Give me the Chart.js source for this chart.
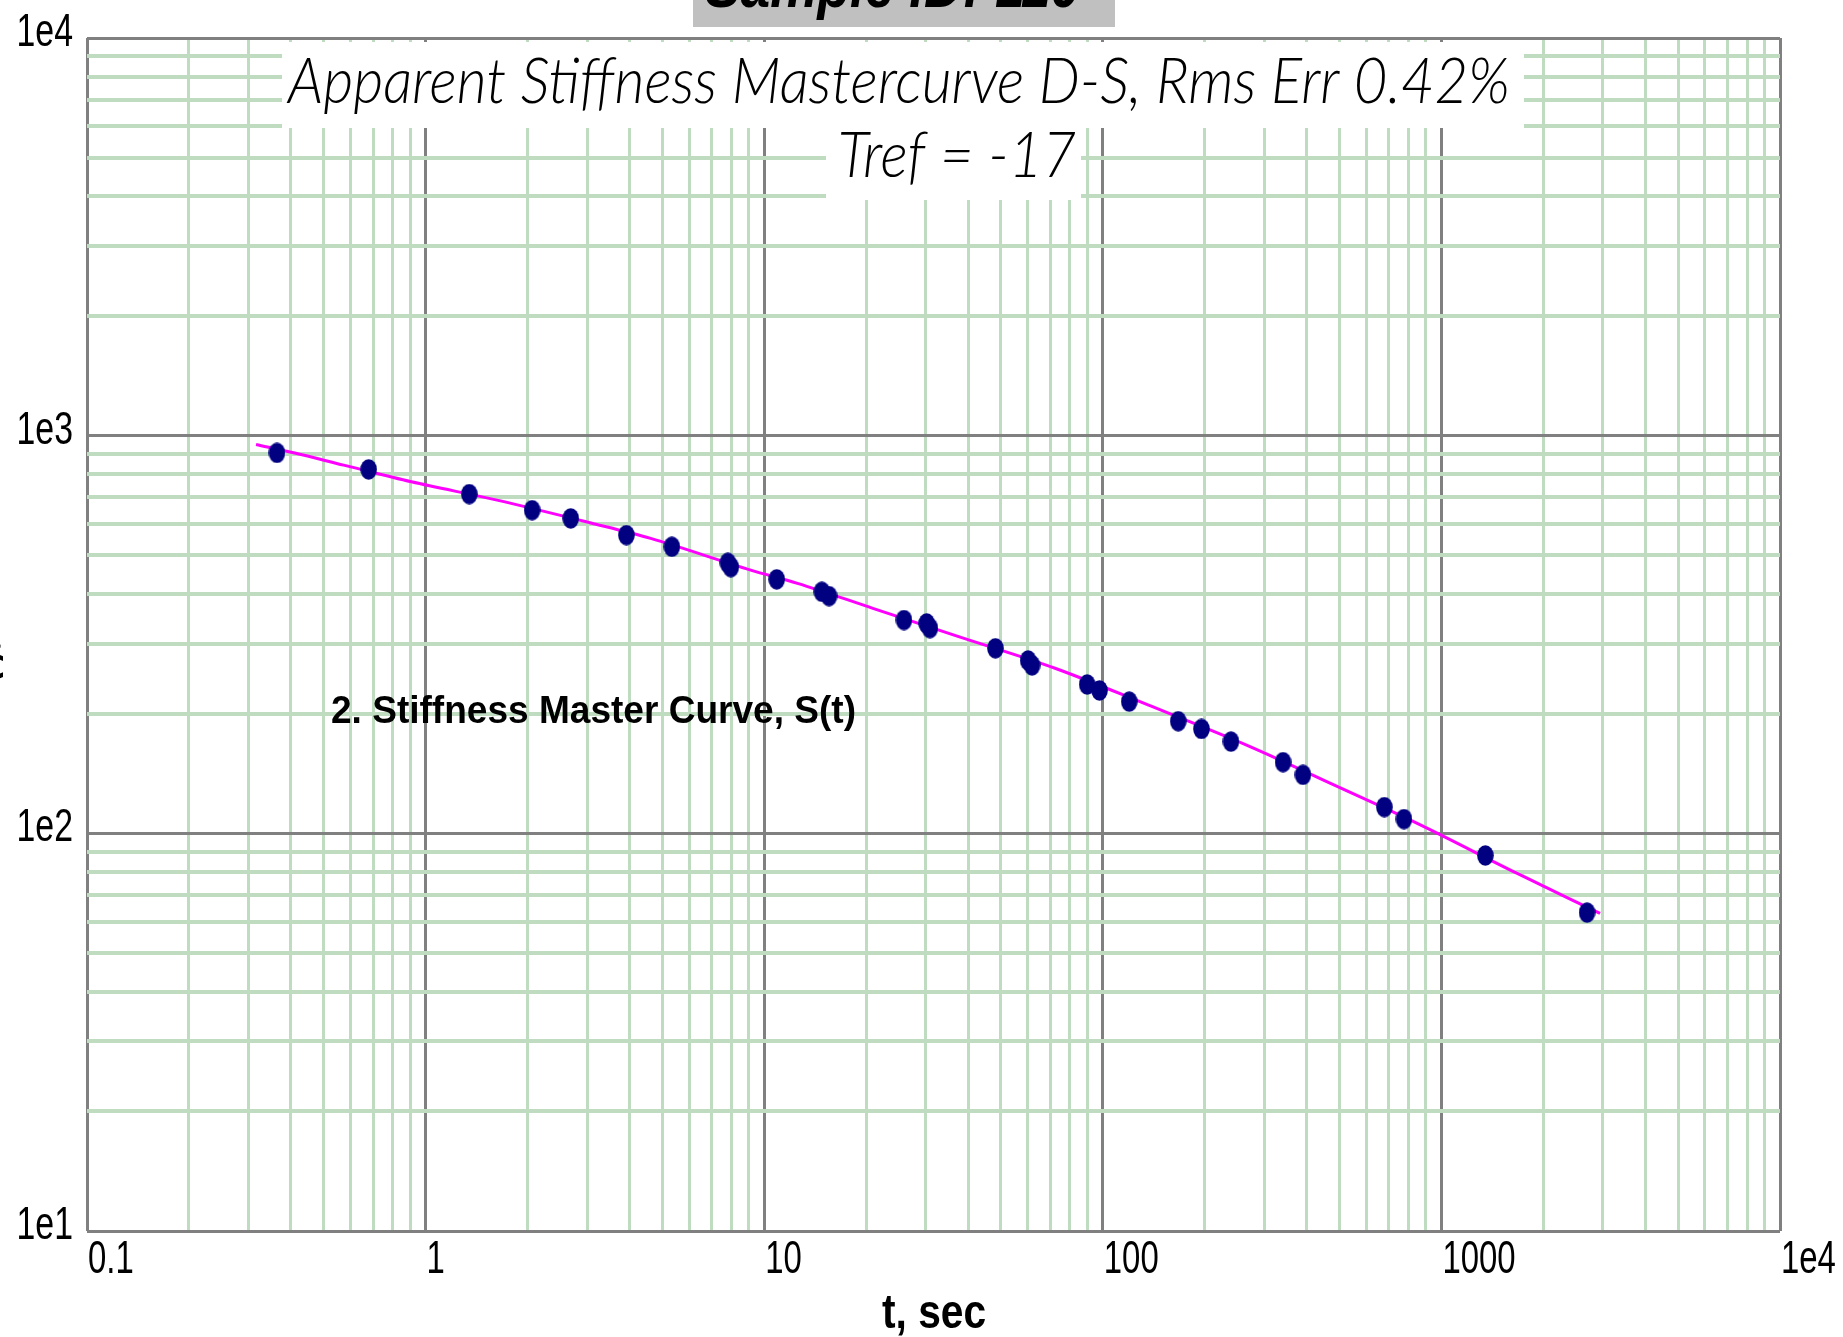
<!DOCTYPE html>
<html>
<head>
<meta charset="utf-8">
<script src="https://cdn.jsdelivr.net/npm/chart.js@4.4.1/dist/chart.umd.min.js"></script>
<style>
  html, body { margin: 0; padding: 0; background: #ffffff; overflow: hidden; }
  #wrap { position: relative; width: 1843px; height: 1337px; }
</style>
</head>
<body>
<div id="wrap"><canvas id="chart" width="1843" height="1337"></canvas></div>
<script>
// Measured creep stiffness S(t) against loading time t (s)
const loadTimes = [0.364, 0.679, 1.346, 2.063, 2.683, 3.918, 5.336, 7.81, 7.97, 10.89,
                   14.8, 15.54, 25.87, 30.18, 30.86, 48.17, 60.16, 61.8, 89.9, 97.8,
                   119.7, 167.0, 195.6, 239.1, 340.6, 390.1, 678.3, 775.3, 1348, 2692];
const stiffness = [905, 822.5, 712.9, 649.7, 619.4, 562.3, 525.6, 479, 467, 435.2,
                   405, 395, 343.9, 337.2, 328.1, 292.0, 272.1, 264.4, 236.8, 228.7,
                   214.4, 191.4, 183.0, 170.1, 151.0, 140.3, 116.4, 108.6, 87.96, 63.2];

// Fitted master curve
const fitTimes = [0.3157, 0.4076, 0.5726, 0.908, 1.626, 3.059, 4.621, 9.123, 12.54,
                  20.94, 37.52, 72.25, 135.9, 272.1, 468.8, 845.3, 1669, 2941];
const fitStiffness = [950.4, 905.6, 843.3, 765.6, 688.4, 603.8, 551.6, 459.2, 425.3,
                      368, 312.3, 260.1, 210.3, 165.2, 133.7, 106.1, 79.4, 62.9];

// Axis decades and their labels
const xDecades = [0.1, 1, 10, 100, 1000, 10000];
const xTickLabels = ['0.1', '1', '10', '100', '1000', '1e4'];
const yDecades = [10, 100, 1000, 10000];
const yTickLabels = ['1e1', '1e2', '1e3', '1e4'];

// Text
const sampleLabel = 'Sample ID: 110';
const titleLines = ['Apparent Stiffness Mastercurve D-S, Rms Err 0.42%', 'Tref = -17'];
const curveLabel = '2. Stiffness Master Curve, S(t)';
const xAxisTitle = 't, sec';
const yAxisTitle = 'S(t), MPa';

// Log grid: decades are major lines, 2..9 multiples are minor lines
function logGridTicks(decades) {
  const ticks = [];
  for (let i = 0; i < decades.length - 1; i++) {
    for (let m = 1; m <= 9; m++) {
      ticks.push({ value: m * decades[i], major: m === 1 });
    }
  }
  ticks.push({ value: decades[decades.length - 1], major: true });
  return ticks;
}

// Slightly tall navy dot used as the marker
function makeDot() {
  const c = document.createElement('canvas');
  c.width = 17; c.height = 21;
  const g = c.getContext('2d');
  g.fillStyle = '#000080';
  g.beginPath();
  g.ellipse(8.5, 10.5, 8.3, 10.3, 0, 0, Math.PI * 2);
  g.fill();
  return c;
}

// Draws text squeezed horizontally so that it spans the given width
function fitText(ctx, text, font, x, y, width, align) {
  ctx.save();
  ctx.font = font;
  ctx.textBaseline = 'alphabetic';
  ctx.textAlign = 'left';
  const w = ctx.measureText(text).width;
  const s = width / w;
  ctx.translate(x, y);
  ctx.scale(s, 1);
  const ox = align === 'center' ? -w / 2 : (align === 'right' ? -w : 0);
  ctx.fillText(text, ox, 0);
  ctx.restore();
  return s;
}

function scaledText(ctx, text, font, x, y, sx, align) {
  ctx.save();
  ctx.font = font;
  ctx.textBaseline = 'alphabetic';
  ctx.textAlign = 'left';
  const w = ctx.measureText(text).width;
  ctx.translate(x, y);
  ctx.scale(sx, 1);
  const ox = align === 'center' ? -w / 2 : (align === 'right' ? -w : 0);
  ctx.fillText(text, ox, 0);
  ctx.restore();
}

const annotations = {
  id: 'annotations',
  afterDraw(chart) {
    const ctx = chart.ctx;
    const xs = chart.scales.x;
    const ys = chart.scales.y;
    const tickFont = '47px "Liberation Sans", Arimo, Arial, sans-serif';
    ctx.save();
    ctx.fillStyle = '#000000';

    // header tab, clipped by the top edge of the page
    ctx.fillStyle = '#c0c0c0';
    ctx.fillRect(693, 0, 422, 27);
    ctx.fillStyle = '#000000';
    fitText(ctx, sampleLabel, 'italic bold 64px "Liberation Sans", Arial, sans-serif', 705, 7, 375, 'left');

    // title boxes
    ctx.fillStyle = '#ffffff';
    ctx.fillRect(282, 42, 1242, 86);
    ctx.fillRect(826, 128, 255, 72);
    ctx.fillStyle = '#000000';
    const titleFont = 'italic 300 64px Lato, "Liberation Sans", sans-serif';
    const s = fitText(ctx, titleLines[0], titleFont, 288, 103, 1222, 'left');
    scaledText(ctx, titleLines[1], titleFont, 957, 177, s, 'center');

    // curve caption
    fitText(ctx, curveLabel, 'bold 39px "Liberation Sans", Arial, sans-serif', 331, 723, 525, 'left');

    // x tick labels
    xDecades.forEach((v, i) => {
      const px = xs.getPixelForValue(v);
      scaledText(ctx, xTickLabels[i], tickFont, px + 1, 1273, 0.7, 'left');
    });
    // y tick labels
    yDecades.forEach((v, i) => {
      const py = ys.getPixelForValue(v);
      scaledText(ctx, yTickLabels[i], tickFont, 73, py + 8, 0.72, 'right');
    });

    // axis titles
    fitText(ctx, xAxisTitle, 'bold 48px "Liberation Sans", Arial, sans-serif', 882, 1328, 104, 'left');
    ctx.save();
    ctx.translate(-7, 634);
    ctx.rotate(-Math.PI / 2);
    scaledText(ctx, yAxisTitle, 'bold 48px "Liberation Sans", Arial, sans-serif', 0, 0, 0.7, 'center');
    ctx.restore();

    ctx.restore();
  }
};

const gridColor = c => (c.tick && c.tick.major) ? '#808080' : '#c0dcc0';

new Chart(document.getElementById('chart'), {
  type: 'scatter',
  data: {
    datasets: [
      {
        label: 'Measured',
        data: loadTimes.map((t, i) => ({ x: t, y: stiffness[i] })),
        pointStyle: makeDot(),
        pointRadius: 9,
        showLine: false
      },
      {
        label: 'Master curve',
        data: fitTimes.map((t, i) => ({ x: t, y: fitStiffness[i] })),
        showLine: true,
        pointRadius: 0,
        borderColor: '#ff00ff',
        borderWidth: 3,
        cubicInterpolationMode: 'monotone',
        fill: false
      }
    ]
  },
  options: {
    responsive: false,
    animation: false,
    devicePixelRatio: 1,
    events: [],
    layout: { padding: { left: 87, right: 63, top: 38, bottom: 106 } },
    plugins: { legend: { display: false }, tooltip: { enabled: false }, title: { display: false } },
    scales: {
      x: {
        type: 'logarithmic',
        min: 0.1,
        max: 10000,
        afterBuildTicks: scale => { scale.ticks = logGridTicks(xDecades); },
        ticks: { display: false, autoSkip: false },
        border: { display: false },
        grid: {
          drawTicks: false,
          color: gridColor,
          lineWidth: 3
        }
      },
      y: {
        type: 'logarithmic',
        min: 10,
        max: 10000,
        afterBuildTicks: scale => { scale.ticks = logGridTicks(yDecades); },
        ticks: { display: false, autoSkip: false },
        border: { display: false },
        grid: {
          drawTicks: false,
          color: gridColor,
          lineWidth: c => (c.tick && c.tick.major) ? 3 : 4
        }
      }
    }
  },
  plugins: [annotations]
});
</script>
</body>
</html>
